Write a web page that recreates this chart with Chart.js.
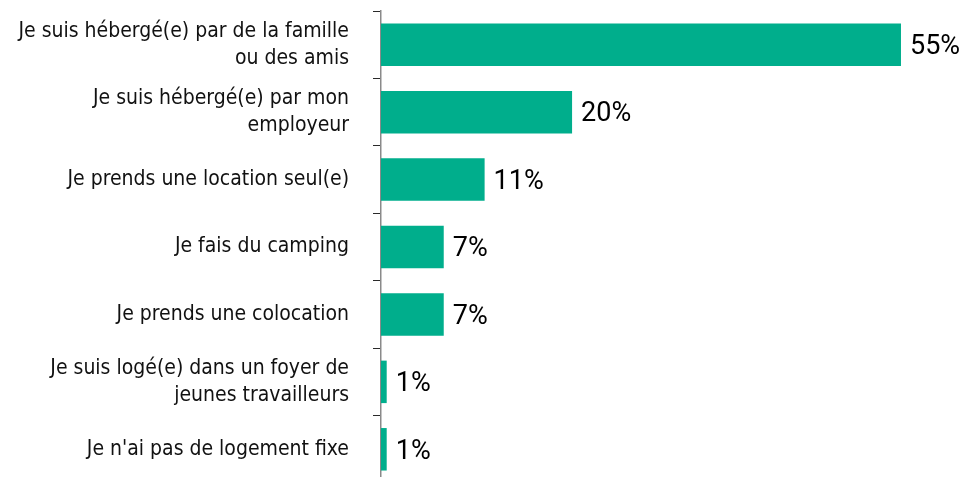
<!DOCTYPE html>
<html><head><meta charset="utf-8">
<script src="https://cdn.jsdelivr.net/npm/chart.js@4/dist/chart.umd.min.js"></script>
<style>html,body{margin:0;padding:0;background:#fff;overflow:hidden;width:968px;height:477px}canvas{display:block}</style>
</head><body>
<canvas id="c" width="968" height="490" style="width:968px;height:490px"></canvas>
<script>
const categories = [
  ["Je suis hébergé(e) par de la famille", "ou des amis"],
  ["Je suis hébergé(e) par mon", "employeur"],
  "Je prends une location seul(e)",
  "Je fais du camping",
  "Je prends une colocation",
  ["Je suis logé(e) dans un foyer de", "jeunes travailleurs"],
  "Je n'ai pas de logement fixe"
];
const values = [54.7, 20.1, 10.9, 6.6, 6.6, 0.6, 0.6];
const valueLabels = ["55%", "20%", "11%", "7%", "7%", "1%", "1%"];

const valueLabelPlugin = {
  id: 'valueLabels',
  afterDatasetsDraw(chart) {
    const ctx = chart.ctx;
    const meta = chart.getDatasetMeta(0);
    ctx.save();
    ctx.font = "27px Roboto, 'Liberation Sans', sans-serif";
    ctx.fillStyle = '#000000';
    ctx.textAlign = 'left';
    ctx.textBaseline = 'middle';
    meta.data.forEach((bar, i) => {
      ctx.fillText(valueLabels[i], bar.x + 9, bar.y + 2.5);
    });
    ctx.restore();
  }
};

new Chart(document.getElementById('c'), {
  type: 'bar',
  data: {
    labels: categories,
    datasets: [{
      data: values,
      backgroundColor: '#00ae8c',
      borderWidth: 0,
      categoryPercentage: 0.63,
      barPercentage: 1.0
    }]
  },
  options: {
    indexAxis: 'y',
    responsive: false,
    maintainAspectRatio: false,
    animation: false,
    devicePixelRatio: 1,
    layout: { padding: { top: 11, bottom: 7, left: 0, right: 0 } },
    plugins: { legend: { display: false }, tooltip: { enabled: false } },
    scales: {
      x: {
        display: false,
        min: 0,
        max: 61.75
      },
      y: {
        afterFit(scale) { scale.width = 381; scale.paddingTop = 0; scale.paddingBottom = 0; },
        grid: {
          offset: true,
          drawOnChartArea: false,
          drawTicks: true,
          tickLength: 8,
          color: '#2a2a2a',
          lineWidth: 1
        },
        border: { display: true, color: '#8a8a8a', width: 1.5 },
        ticks: {
          padding: 24,
          color: '#111111',
          font: { family: "'DejaVu Sans Condensed', 'DejaVu Sans', sans-serif", size: 21, lineHeight: 1.28 }
        }
      }
    }
  },
  plugins: [valueLabelPlugin]
});
</script>
</body></html>
